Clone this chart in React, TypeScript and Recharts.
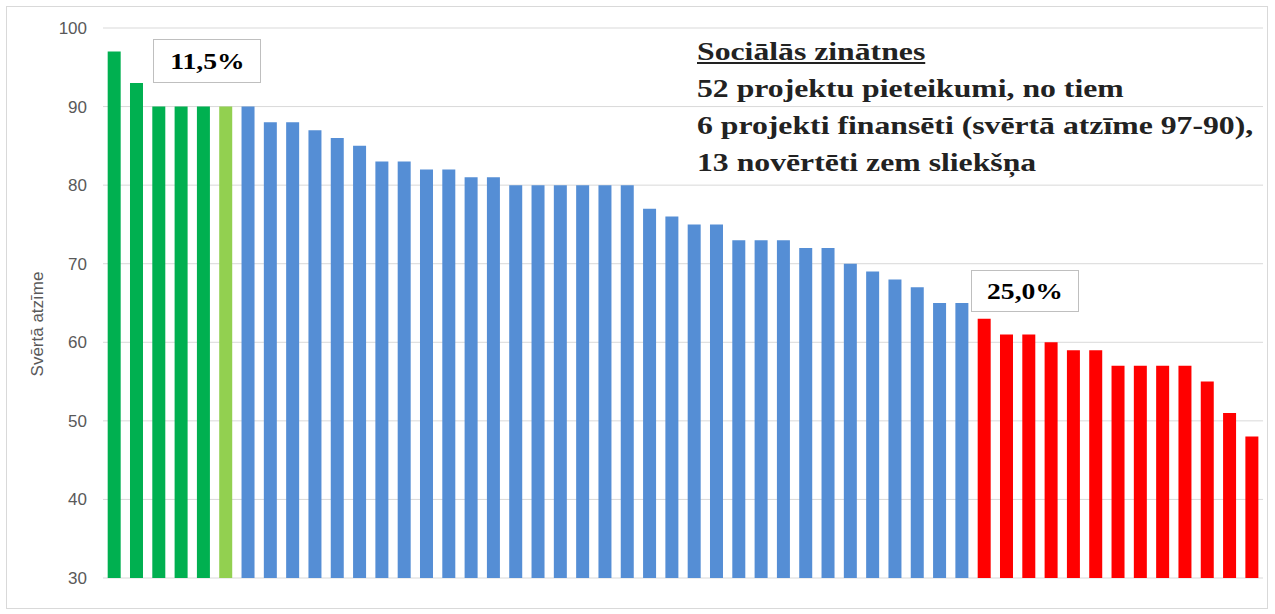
import React from "react";
import { BarChart, Bar, XAxis, YAxis, CartesianGrid, Cell } from "recharts";

// svērtā atzīme for each of the 52 project applications, sorted high to low
const scores = [
  97, 93, 90, 90, 90, 90,
  90, 88, 88, 87, 86, 85, 83, 83, 82, 82, 81, 81, 80, 80, 80, 80, 80, 80,
  77, 76, 75, 75, 73, 73, 73, 72, 72, 70, 69, 68, 67, 65, 65,
  63, 61, 61, 60, 59, 59, 57, 57, 57, 57, 55, 51, 48,
];

// how many bars fall in each group, in order
const groupNames = ["finansēti", "finansēti (robeža)", "virs sliekšņa", "zem sliekšņa"];
const groupSizes = [5, 1, 33, 13];
const groupColors = ["#00B050", "#92D050", "#558ED5", "#FF0000"];

const yTicks = [30, 40, 50, 60, 70, 80, 90, 100];

const titleLines = [
  "52 projektu pieteikumi, no tiem",
  "6 projekti finansēti (svērtā atzīme 97-90),",
  "13 novērtēti zem sliekšņa",
];

const groupOf: string[] = groupSizes.flatMap((n, g) => Array(n).fill(groupNames[g]));
const data = scores.map((score, i) => ({ name: `${i + 1}`, score, group: groupOf[i] }));

const serif = "'Liberation Serif', 'Times New Roman', serif";
const sans = "'Liberation Sans', Arial, sans-serif";

const boxStyle: React.CSSProperties = {
  position: "absolute",
  border: "1.5px solid #bfbfbf",
  background: "#fff",
  fontFamily: serif,
  fontWeight: "bold",
  fontSize: 24,
  color: "#000",
  display: "flex",
  alignItems: "center",
  justifyContent: "center",
  boxSizing: "border-box",
};

const stretch: React.CSSProperties = { display: "inline-block", transform: "scaleX(1.15)" };

const App = () => {
  return (
    <div style={{ position: "absolute", left: 0, top: 0, width: 1275, height: 614, background: "#fff" }}>
      <div
        style={{
          position: "absolute",
          left: 6,
          top: 6,
          width: 1262,
          height: 603,
          border: "1px solid #d9d9d9",
          boxSizing: "border-box",
        }}
      />
      <div style={{ position: "absolute", left: 0, top: 0 }}>
        <BarChart
          width={1275}
          height={614}
          data={data}
          margin={{ top: 28, right: 12, bottom: 36, left: 0 }}
          barCategoryGap="21%"
        >
          <CartesianGrid vertical={false} stroke="#d9d9d9" />
          <XAxis dataKey="name" hide />
          <YAxis
            width={103}
            domain={[30, 100]}
            ticks={yTicks}
            axisLine={false}
            tickLine={false}
            tickMargin={10}
            tick={{ fill: "#595959", fontSize: 17, fontFamily: sans }}
          />
          <Bar dataKey="score" isAnimationActive={false}>
            {data.map((d, i) => (
              <Cell key={i} fill={groupColors[groupNames.indexOf(d.group)]} />
            ))}
          </Bar>
        </BarChart>
      </div>

      <div
        style={{
          position: "absolute",
          left: 38,
          top: 324,
          transform: "translate(-50%, -50%) rotate(-90deg)",
          whiteSpace: "nowrap",
          fontFamily: sans,
          fontSize: 17,
          color: "#595959",
        }}
      >
        Svērtā atzīme
      </div>

      <div style={{ ...boxStyle, left: 153, top: 39, width: 108, height: 44 }}>
        <span style={stretch}>11,5%</span>
      </div>
      <div style={{ ...boxStyle, left: 971, top: 270, width: 108, height: 42 }}>
        <span style={stretch}>25,0%</span>
      </div>

      <div
        style={{
          position: "absolute",
          left: 697,
          top: 33,
          fontFamily: serif,
          fontWeight: "bold",
          fontSize: 26,
          lineHeight: "37px",
          color: "#222",
          whiteSpace: "nowrap",
          transform: "scaleX(1.22)",
          transformOrigin: "left top",
        }}
      >
        <div style={{ textDecoration: "underline" }}>Sociālās zinātnes</div>
        {titleLines.map((t) => (
          <div key={t}>{t}</div>
        ))}
      </div>
    </div>
  );
};

export default App;
